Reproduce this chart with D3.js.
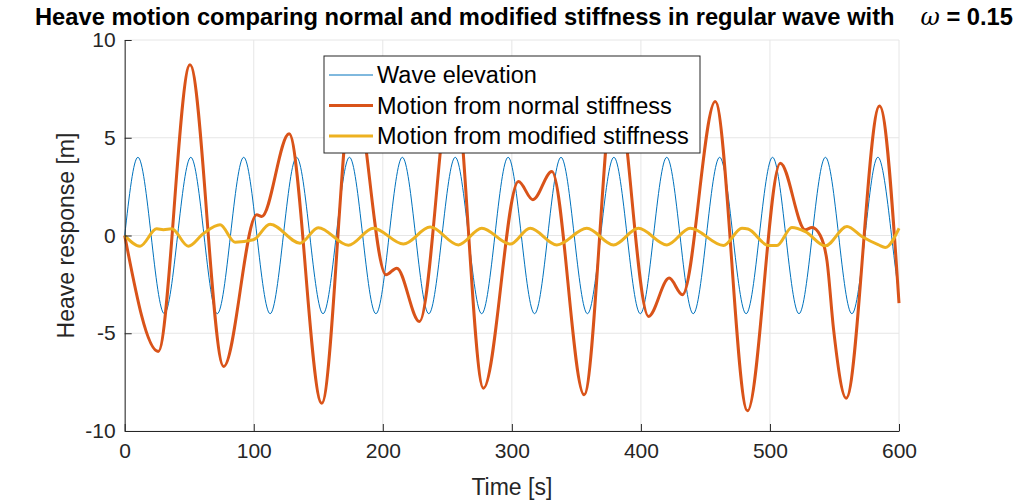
<!DOCTYPE html>
<html>
<head>
<meta charset="utf-8">
<script src="https://cdn.jsdelivr.net/npm/d3@7"></script>
<style>
  body { margin: 0; background: #fff; }
  text { font-family: "Liberation Sans", Arial, Helvetica, sans-serif; }
</style>
</head>
<body>
<div id="chart"></div>
<script>
// wave elevation: quarter-period points (peaks, troughs, crossings)
const waveT = [0, 10.25, 20.49, 30.74, 40.98, 51.23, 61.47, 71.72, 81.96, 92.21, 102.45, 112.7, 122.94, 133.19, 143.43, 153.68, 163.92, 174.17, 184.41, 194.66, 204.9, 215.15, 225.39, 235.64, 245.88, 256.13, 266.37, 276.62, 286.86, 297.11, 307.35, 317.6, 327.84, 338.09, 348.33, 358.58, 368.82, 379.07, 389.31, 399.56, 409.8, 420.05, 430.29, 440.54, 450.78, 461.03, 471.27, 481.52, 491.76, 502.01, 512.25, 522.5, 532.74, 542.99, 553.23, 563.48, 573.72, 583.97, 594.21, 600];
const waveY = [0, 4, 0, -4, 0, 4, 0, -4, 0, 4, 0, -4, 0, 4, 0, -4, 0, 4, 0, -4, 0, 4, 0, -4, 0, 4, 0, -4, 0, 4, 0, -4, 0, 4, 0, -4, 0, 4, 0, -4, 0, 4, 0, -4, 0, 4, 0, -4, 0, 4, 0, -4, 0, 4, 0, -4, 0, 4, 0, -3.1];

// motion from normal stiffness (turning points)
const normalT = [0, 26, 50.6, 76.7, 102.3, 106.2, 127.4, 152.7, 177, 202.5, 210.8, 228.4, 254.5, 278, 305.1, 316.3, 331, 356, 380, 405.9, 421.9, 432.2, 457.6, 482.6, 508, 527.4, 532.6, 539, 544.2, 549.3, 559.1, 584.9, 600];
const normalY = [0, -5.93, 8.73, -6.7, 1.06, 0.97, 5.2, -8.58, 7.8, -2.01, -1.67, -4.4, 8.5, -7.81, 2.76, 1.83, 3.27, -8.15, 8.0, -4.14, -2.18, -3.03, 6.85, -8.97, 3.7, 0.29, 0.41, 0.0, -1.3, -4.8, -8.32, 6.63, -3.46];

// motion from modified stiffness
const modT = [0, 11.9, 24.8, 30, 36.4, 49.3, 61, 73.9, 85.5, 99.7, 112.6, 135.9, 150, 173.3, 192.7, 216, 236.7, 258.6, 276.7, 298.7, 314.2, 334.9, 358.1, 378.8, 398.1, 420.2, 438.2, 464, 478.3, 483, 498.9, 505.4, 517, 527.4, 542.9, 559.7, 571.3, 584.2, 589.4, 600];
const modY = [0, -0.55, 0.34, 0.3, 0.34, -0.55, 0.1, 0.55, -0.34, -0.22, 0.58, -0.39, 0.4, -0.5, 0.37, -0.44, 0.43, -0.48, 0.37, -0.44, 0.37, -0.48, 0.37, -0.48, 0.37, -0.48, 0.37, -0.51, 0.37, 0.33, -0.51, -0.51, 0.41, 0.2, -0.53, 0.46, -0.05, -0.48, -0.61, 0.37];

const xTicks = [0, 100, 200, 300, 400, 500, 600];
const yTicks = [-10, -5, 0, 5, 10];
const legendLabels = ["Wave elevation", "Motion from normal stiffness", "Motion from modified stiffness"];

const W = 1014, H = 500;
const svg = d3.select("#chart").append("svg")
  .attr("width", W).attr("height", H);

const x = d3.scaleLinear().domain([0, 600]).range([124.7, 899]);
const y = d3.scaleLinear().domain([-10, 10]).range([431, 40]);

// grid
svg.append("g").selectAll("line").data(xTicks).join("line")
  .attr("x1", d => x(d)).attr("x2", d => x(d))
  .attr("y1", y(-10)).attr("y2", y(10))
  .attr("stroke", "#e6e6e6").attr("stroke-width", 1);
svg.append("g").selectAll("line").data(yTicks).join("line")
  .attr("x1", x(0)).attr("x2", x(600))
  .attr("y1", d => y(d)).attr("y2", d => y(d))
  .attr("stroke", "#e6e6e6").attr("stroke-width", 1);

// series
const series = [
  { t: waveT, v: waveY, color: "#0072BD", width: 1, curve: d3.curveNatural },
  { t: normalT, v: normalY, color: "#D95319", width: 3, curve: d3.curveMonotoneX },
  { t: modT, v: modY, color: "#EDB120", width: 3, curve: d3.curveMonotoneX }
];
series.forEach(s => {
  const pts = s.t.map((t, i) => [t, s.v[i]]);
  svg.append("path")
    .datum(pts)
    .attr("fill", "none")
    .attr("stroke", s.color)
    .attr("stroke-width", s.width)
    .attr("stroke-linejoin", "round")
    .attr("d", d3.line().x(d => x(d[0])).y(d => y(d[1])).curve(s.curve));
});

// axes (plain hyphen minus like the original)
const fmt = d => String(d);
const xAxis = svg.append("g")
  .attr("transform", `translate(0,${y(-10)})`)
  .call(d3.axisBottom(x).tickValues(xTicks).tickFormat(fmt).tickSizeInner(-7).tickSizeOuter(0).tickPadding(12));
const yAxis = svg.append("g")
  .attr("transform", `translate(${x(0)},0)`)
  .call(d3.axisLeft(y).tickValues(yTicks).tickFormat(fmt).tickSizeInner(-7).tickSizeOuter(0).tickPadding(9));
[xAxis, yAxis].forEach(a => {
  a.select(".domain").attr("stroke", "#262626");
  a.selectAll(".tick line").attr("stroke", "#262626");
  a.selectAll(".tick text").attr("fill", "#262626")
    .style("font-size", "21px")
    .style("font-family", "'Liberation Sans', Arial, sans-serif");
});

// axis labels
svg.append("text")
  .attr("x", (x(0) + x(600)) / 2).attr("y", 495)
  .attr("text-anchor", "middle")
  .attr("fill", "#262626")
  .style("font-size", "23px")
  .text("Time [s]");
svg.append("text")
  .attr("transform", `translate(74,${(y(-10) + y(10)) / 2}) rotate(-90)`)
  .attr("text-anchor", "middle")
  .attr("fill", "#262626")
  .style("font-size", "23px")
  .text("Heave response [m]");

// title
const title = svg.append("text")
  .attr("x", 35).attr("y", 25)
  .attr("fill", "#000")
  .style("font-size", "23.7px")
  .style("font-weight", "bold");
title.append("tspan").text("Heave motion comparing normal and modified stiffness in regular wave with");
title.append("tspan").attr("dx", 26).style("font-style", "italic").style("font-weight", "normal")
  .style("font-family", "'DejaVu Serif', serif").text("\u03c9");
title.append("tspan").text(" = 0.15");

// legend
const lg = svg.append("g").attr("transform", "translate(324,56)");
lg.append("rect")
  .attr("width", 376).attr("height", 97)
  .attr("fill", "#fff").attr("stroke", "#262626").attr("stroke-width", 1);
legendLabels.forEach((label, i) => {
  const cy = 19 + i * 30.5;
  lg.append("line")
    .attr("x1", 5).attr("x2", 49).attr("y1", cy).attr("y2", cy)
    .attr("stroke", series[i].color).attr("stroke-width", series[i].width);
  lg.append("text")
    .attr("x", 53).attr("y", cy).attr("dy", "0.35em")
    .attr("fill", "#000")
    .style("font-size", "23.5px")
    .text(label);
});
</script>
</body>
</html>
